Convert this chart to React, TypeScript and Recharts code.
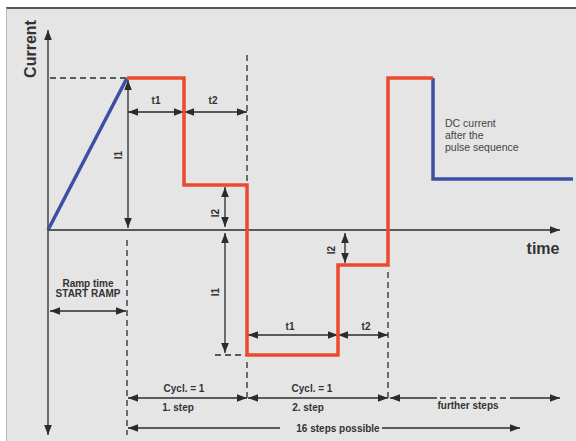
import * as React from 'react'
import { LineChart, Line, XAxis, YAxis, ReferenceLine, ReferenceDot } from 'recharts'

// time (t) and current (I) in drawing units
const rampT = [0, 79]
const rampI = [0, 152]
const pulseT = [79, 136, 136, 199, 199, 290, 290, 340, 340, 385]
const pulseI = [152, 152, 45, 45, -125, -125, -35, -35, 152, 152]
const dcT = [385, 385, 525]
const dcI = [152, 51, 51]

// dimension arrows: [t1, I1, t2, I2, arrow at start, arrow at end]
const arrows: [number, number, number, number, boolean, boolean][] = [
  [0, -205, 0, 200, true, true],
  [0, 0, 512, 0, false, true],
  [80, 118, 136, 118, true, true],
  [136, 118, 199, 118, true, true],
  [80, 2, 80, 150, true, true],
  [177, 3, 177, 43, true, true],
  [177, -3, 177, -123, true, true],
  [297, -3, 297, -33, true, true],
  [200, -105, 290, -105, true, true],
  [290, -105, 340, -105, true, true],
  [2, -81, 78, -81, true, true],
  [80, -168, 199, -168, true, true],
  [200, -168, 340, -168, true, true],
  [342, -168, 389, -168, true, false],
  [462, -168, 512, -168, false, true],
  [80, -198, 232, -198, true, false],
  [334, -198, 472, -198, false, true],
]

const dashes: [number, number, number, number][] = [
  [2, 152, 79, 152],
  [79, -10, 79, -205],
  [199, 175, 199, 45],
  [199, -132, 199, -172],
  [340, -42, 340, -172],
  [167, -125, 199, -125],
  [392, -168, 462, -168],
]

// labels: [text, t, I, rotated]
const labels: [string, number, number, boolean][] = [
  ['t1', 108, 130, false],
  ['t2', 165, 130, false],
  ['I1', 70, 75, true],
  ['I2', 167, 17, true],
  ['I1', 167, -62, true],
  ['I2', 283, -20, true],
  ['t1', 242, -96, false],
  ['t2', 318, -96, false],
  ['Ramp time', 40, -53, false],
  ['START RAMP', 40, -63, false],
  ['Cycl. = 1', 136, -158, false],
  ['1. step', 130, -177, false],
  ['Cycl. = 1', 264, -158, false],
  ['2. step', 260, -177, false],
  ['further steps', 420, -175, false],
  ['16 steps possible', 290, -198, false],
]

const dcText = ['DC current', 'after the', 'pulse sequence']

const INK = '#2b2b2b'
const RED = '#ec4a2e'
const BLUE = '#3c4ea6'
const FONT = 'Liberation Sans, Arial, sans-serif'

const toRows = (ts: number[], is: number[]) => ts.map((t, i) => ({ t, I: is[i] }))

function arrowShape(start: boolean, end: boolean) {
  return (p: any) => {
    const { x1, y1, x2, y2 } = p
    const dx = x2 - x1
    const dy = y2 - y1
    const len = Math.sqrt(dx * dx + dy * dy) || 1
    const ux = dx / len
    const uy = dy / len
    const L = 10
    const W = 3.8
    const head = (x: number, y: number, sx: number, sy: number) => {
      const bx = x - sx * L
      const by = y - sy * L
      return `${x},${y} ${bx - sy * W},${by + sx * W} ${bx + sy * W},${by - sx * W}`
    }
    return (
      <g>
        <line x1={x1} y1={y1} x2={x2} y2={y2} stroke={INK} strokeWidth={1.3} />
        {start && <polygon points={head(x1, y1, -ux, -uy)} fill={INK} />}
        {end && <polygon points={head(x2, y2, ux, uy)} fill={INK} />}
      </g>
    )
  }
}

function textShape(text: string, rotated: boolean, size = 10, bold = true, anchor: 'middle' | 'start' = 'middle', fill = '#333') {
  return (p: any) => (
    <text
      x={p.cx}
      y={p.cy}
      textAnchor={anchor}
      dominantBaseline="central"
      fontFamily={FONT}
      fontSize={size}
      fontWeight={bold ? 'bold' : 'normal'}
      fill={fill}
      transform={rotated ? `rotate(-90 ${p.cx} ${p.cy})` : undefined}
    >
      {text}
    </text>
  )
}

export default function App() {
  return (
    <div style={{ position: 'absolute', left: 0, top: 0, width: 576, height: 441, background: '#fff' }}>
      <div
        style={{
          position: 'absolute', left: 6, top: 7, width: 570, height: 434,
          background: '#e5e5e5', borderTop: '2px solid #555', borderLeft: '1px solid #bbb', boxSizing: 'border-box',
        }}
      />
      <div style={{ position: 'absolute', left: 0, top: 0 }}>
        <LineChart width={576} height={441} margin={{ top: 0, right: 0, bottom: 0, left: 0 }}>
          <XAxis type="number" dataKey="t" domain={[-48, 528]} hide allowDataOverflow />
          <YAxis type="number" dataKey="I" domain={[-211, 230]} hide allowDataOverflow />
          {dashes.map(([ta, ia, tb, ib], i) => (
            <ReferenceLine
              key={'d' + i}
              segment={[{ x: ta, y: ia }, { x: tb, y: ib }]}
              stroke={INK}
              strokeWidth={1.3}
              strokeDasharray="6 4"
              ifOverflow="visible"
            />
          ))}
          {arrows.map(([ta, ia, tb, ib, s, e], i) => (
            <ReferenceLine
              key={'a' + i}
              segment={[{ x: ta, y: ia }, { x: tb, y: ib }]}
              ifOverflow="visible"
              shape={arrowShape(s, e)}
            />
          ))}
          <Line data={toRows(rampT, rampI)} dataKey="I" stroke={BLUE} strokeWidth={3.5} dot={false} activeDot={false} isAnimationActive={false} />
          <Line data={toRows(dcT, dcI)} dataKey="I" stroke={BLUE} strokeWidth={3.5} dot={false} activeDot={false} isAnimationActive={false} />
          <Line data={toRows(pulseT, pulseI)} dataKey="I" stroke={RED} strokeWidth={3.5} dot={false} activeDot={false} isAnimationActive={false} />
          {labels.map(([txt, t, I, rot], i) => (
            <ReferenceDot key={'l' + i} x={t} y={I} r={0} ifOverflow="visible" shape={textShape(txt, rot)} />
          ))}
          <ReferenceDot x={-18} y={181} r={0} ifOverflow="visible" shape={textShape('Current', true, 16)} />
          <ReferenceDot x={495} y={-18} r={0} ifOverflow="visible" shape={textShape('time', false, 16)} />
          {dcText.map((txt, i) => (
            <ReferenceDot
              key={'dc' + i}
              x={397}
              y={107 - i * 12}
              r={0}
              ifOverflow="visible"
              shape={textShape(txt, false, 10.5, false, 'start', '#444')}
            />
          ))}
        </LineChart>
      </div>
    </div>
  )
}
